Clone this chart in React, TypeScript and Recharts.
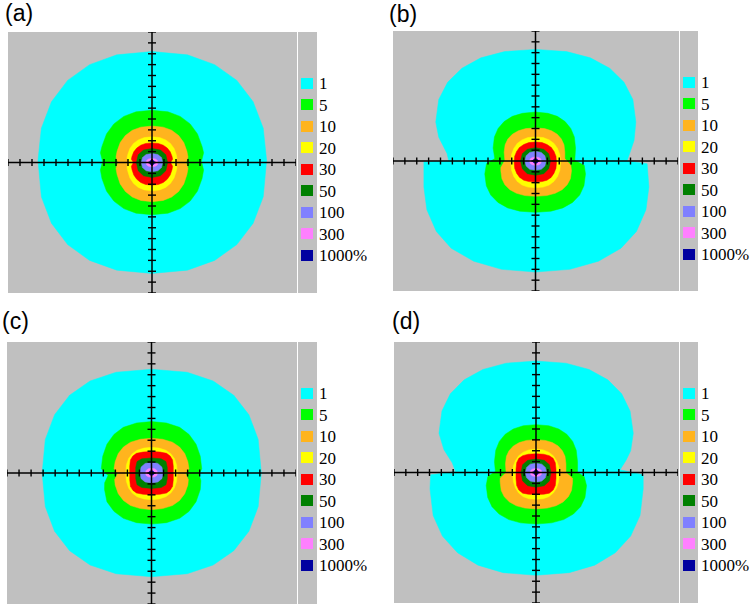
import React from "react";
import { ScatterChart, Scatter, XAxis, YAxis } from "recharts";

type Pt = [number, number];

const levelLabels = ["1", "5", "10", "20", "30", "50", "100", "300", "1000%"];
const levelColors = ["#00ffff", "#00ff00", "#ffb41e", "#ffff00", "#ff0000", "#008000", "#8080ff", "#ff80ff", "#0000a0"];
const axisTicks = [-12, -11, -10, -9, -8, -7, -6, -5, -4, -3, -2, -1, 0, 1, 2, 3, 4, 5, 6, 7, 8, 9, 10, 11, 12];
const panelLabels = ["(a)", "(b)", "(c)", "(d)"];

// (a)
const a1: Pt[] = [[0, 10.2], [2.95, 9.9], [5.22, 9.0], [7.07, 7.55], [8.43, 5.58], [9.27, 3.15], [9.55, 0.2], [9.27, -3.15], [8.43, -5.58], [7.07, -7.55], [5.22, -9.0], [2.95, -9.9], [0, -10.2], [-2.93, -9.9], [-5.2, -9.0], [-7.03, -7.55], [-8.38, -5.58], [-9.22, -3.15], [-9.5, 0.2], [-9.22, 3.15], [-8.38, 5.58], [-7.03, 7.55], [-5.2, 9.0], [-2.93, 9.9]];
const a5: Pt[] = [[0, 4.8], [1.33, 4.66], [2.35, 4.24], [3.18, 3.55], [3.79, 2.63], [4.17, 1.48], [4.3, 0.9], [4.12, 0.1], [4.3, -0.7], [4.17, -1.48], [3.79, -2.63], [3.18, -3.55], [2.35, -4.24], [1.33, -4.66], [0, -4.8], [-1.33, -4.66], [-2.35, -4.24], [-3.18, -3.55], [-3.79, -2.63], [-4.17, -1.48], [-4.3, -0.7], [-4.12, 0.1], [-4.3, 0.9], [-4.17, 1.48], [-3.79, 2.63], [-3.18, 3.55], [-2.35, 4.24], [-1.33, 4.66]];
const a10: Pt[] = [[0, 3.35], [0.93, 3.25], [1.64, 2.96], [2.22, 2.48], [2.65, 1.83], [2.91, 1.03], [3.0, 0.5], [2.85, 0], [3.0, -0.55], [2.91, -1.11], [2.65, -1.97], [2.22, -2.66], [1.64, -3.18], [0.93, -3.49], [0, -3.6], [-0.93, -3.49], [-1.64, -3.18], [-2.22, -2.66], [-2.65, -1.97], [-2.91, -1.11], [-3.0, -0.55], [-2.85, 0], [-3.0, 0.5], [-2.91, 1.03], [-2.65, 1.83], [-2.22, 2.48], [-1.64, 2.96], [-0.93, 3.25]];
const a20: Pt[] = [[0, 2.36], [0.64, 2.29], [1.14, 2.08], [1.54, 1.75], [1.84, 1.29], [2.02, 0.73], [2.08, 0.4], [1.94, 0], [2.08, -0.45], [2.02, -0.8], [1.84, -1.42], [1.54, -1.92], [1.14, -2.29], [0.64, -2.52], [0, -2.6], [-0.64, -2.52], [-1.14, -2.29], [-1.54, -1.92], [-1.84, -1.42], [-2.02, -0.8], [-2.08, -0.45], [-1.94, 0], [-2.08, 0.4], [-2.02, 0.73], [-1.84, 1.29], [-1.54, 1.75], [-1.14, 2.08], [-0.64, 2.29]];
const a30: Pt[] = [[0, 1.8], [0.53, 1.75], [0.94, 1.59], [1.27, 1.33], [1.52, 0.98], [1.67, 0.56], [1.72, 0.3], [1.55, 0], [1.72, -0.35], [1.67, -0.64], [1.52, -1.14], [1.27, -1.54], [0.94, -1.84], [0.53, -2.02], [0, -2.08], [-0.53, -2.02], [-0.94, -1.84], [-1.27, -1.54], [-1.52, -1.14], [-1.67, -0.64], [-1.72, -0.35], [-1.55, 0], [-1.72, 0.3], [-1.67, 0.56], [-1.52, 0.98], [-1.27, 1.33], [-0.94, 1.59], [-0.53, 1.75]];
const a50: Pt[] = [[0, 1.29], [0.71, 1.14], [1.15, 0.71], [1.3, 0], [1.15, -0.75], [0.71, -1.22], [0, -1.38], [-0.71, -1.22], [-1.15, -0.75], [-1.3, 0], [-1.15, 0.71], [-0.71, 1.14]];
const a100: Pt[] = [[0, 0.83], [0.49, 0.73], [0.79, 0.45], [0.89, 0], [0.79, -0.47], [0.49, -0.76], [0, -0.86], [-0.49, -0.76], [-0.79, -0.47], [-0.89, 0], [-0.79, 0.45], [-0.49, 0.73]];
const a300: Pt[] = [[0, 0.37], [0.27, 0.33], [0.44, 0.2], [0.5, 0], [0.44, -0.22], [0.27, -0.35], [0, -0.4], [-0.27, -0.35], [-0.44, -0.22], [-0.5, 0], [-0.44, 0.2], [-0.27, 0.33]];
const a1000: Pt[] = [[0, 0.22], [0.17, 0.15], [0.22, 0], [0.17, -0.15], [0, -0.22], [-0.17, -0.15], [-0.22, 0], [-0.17, 0.15]];

// (b)
const b1: Pt[] = [[0, 10.3], [2.61, 10.1], [4.62, 9.52], [6.25, 8.56], [7.46, 7.26], [8.2, 5.67], [8.45, 3.6], [8.3, 1.9], [7.9, 0.6], [7.7, 0], [9.4, -0.25], [9.55, -2.4], [9.3, -4.5], [8.5, -6.5], [7.2, -8.05], [5.3, -9.25], [2.9, -10.0], [0, -10.25], [-2.85, -10.0], [-5.2, -9.25], [-7.1, -8.05], [-8.35, -6.5], [-9.15, -4.5], [-9.4, -2.4], [-9.4, -0.1], [-7.3, 0], [-7.45, 0.7], [-8.15, 2.2], [-8.4, 3.6], [-8.15, 5.67], [-7.4, 7.26], [-6.2, 8.56], [-4.6, 9.52], [-2.6, 10.1]];
const b5: Pt[] = [[0, 4.52], [1.04, 4.4], [1.84, 4.12], [2.49, 3.64], [2.97, 3.0], [3.27, 2.22], [3.37, 1.2], [3.31, 0.06], [4.1, -0.4], [4.21, -1.2], [4.08, -2.29], [3.72, -3.14], [3.12, -3.82], [2.3, -4.33], [1.3, -4.63], [0, -4.74], [-1.32, -4.63], [-2.34, -4.33], [-3.16, -3.82], [-3.77, -3.14], [-4.14, -2.29], [-4.27, -1.2], [-4.13, -0.25], [-3.43, 0.22], [-3.57, 1.2], [-3.46, 2.22], [-3.15, 3.0], [-2.64, 3.64], [-1.95, 4.12], [-1.1, 4.4]];
const b10: Pt[] = [[0, 3.05], [0.76, 2.99], [1.35, 2.79], [1.83, 2.47], [2.18, 2.03], [2.4, 1.49], [2.47, 0.8], [2.47, 0.22], [2.98, -0.4], [3.03, -0.9], [2.94, -1.63], [2.67, -2.19], [2.24, -2.65], [1.66, -2.98], [0.94, -3.19], [0, -3.26], [-0.9, -3.19], [-1.6, -2.98], [-2.16, -2.65], [-2.58, -2.19], [-2.83, -1.63], [-2.92, -0.9], [-2.92, -0.6], [-2.58, 0.06], [-2.64, 0.8], [-2.56, 1.49], [-2.33, 2.03], [-1.95, 2.47], [-1.44, 2.79], [-0.81, 2.99]];
const b20: Pt[] = [[0, 2.22], [0.65, 2.16], [1.16, 1.95], [1.56, 1.62], [1.86, 1.15], [2.05, 0.59], [2.11, -0.1], [2.05, -0.85], [1.86, -1.42], [1.56, -1.88], [1.16, -2.21], [0.65, -2.41], [0, -2.46], [-0.64, -2.41], [-1.14, -2.21], [-1.54, -1.88], [-1.83, -1.42], [-2.02, -0.85], [-2.08, -0.1], [-2.02, 0.59], [-1.83, 1.15], [-1.54, 1.62], [-1.14, 1.95], [-0.64, 2.16]];
const b30: Pt[] = [[0, 1.75], [0.55, 1.7], [0.97, 1.52], [1.33, 1.25], [1.56, 0.88], [1.72, 0.45], [1.77, -0.1], [1.72, -0.68], [1.56, -1.12], [1.33, -1.5], [0.97, -1.77], [0.55, -1.9], [0, -1.94], [-0.56, -1.9], [-0.99, -1.77], [-1.35, -1.5], [-1.59, -1.12], [-1.75, -0.68], [-1.8, -0.1], [-1.75, 0.45], [-1.59, 0.88], [-1.35, 1.25], [-0.99, 1.52], [-0.56, 1.7]];
const b50: Pt[] = [[0, 1.23], [0.69, 1.08], [1.11, 0.67], [1.26, 0], [1.11, -0.72], [0.69, -1.17], [0, -1.32], [-0.69, -1.17], [-1.11, -0.72], [-1.26, 0], [-1.11, 0.67], [-0.69, 1.08]];
const b100: Pt[] = [[0, 0.89], [0.49, 0.79], [0.79, 0.49], [0.9, 0], [0.79, -0.47], [0.49, -0.76], [0, -0.86], [-0.49, -0.76], [-0.79, -0.47], [-0.9, 0], [-0.79, 0.49], [-0.49, 0.79]];
const b300: Pt[] = [[0, 0.37], [0.27, 0.33], [0.44, 0.2], [0.5, 0], [0.44, -0.22], [0.27, -0.35], [0, -0.4], [-0.27, -0.35], [-0.44, -0.22], [-0.5, 0], [-0.44, 0.2], [-0.27, 0.33]];
const b1000: Pt[] = [[0, 0.22], [0.17, 0.15], [0.22, 0], [0.17, -0.15], [0, -0.22], [-0.17, -0.15], [-0.22, 0], [-0.17, 0.15]];

// (c)
const c1: Pt[] = [[0, 9.5], [2.96, 9.23], [5.12, 8.43], [6.83, 7.12], [8.09, 5.33], [8.86, 3.08], [9.12, 0], [8.86, -3.08], [8.09, -5.33], [6.83, -7.12], [5.12, -8.43], [2.96, -9.23], [0, -9.5], [-2.94, -9.23], [-5.1, -8.43], [-6.8, -7.12], [-8.05, -5.33], [-8.82, -3.08], [-9.08, 0], [-8.82, 3.08], [-8.05, 5.33], [-6.8, 7.12], [-5.1, 8.43], [-2.94, 9.23]];
const c5: Pt[] = [[0, 4.71], [1.24, 4.58], [2.34, 4.18], [3.12, 3.53], [3.7, 2.64], [4.05, 1.53], [4.17, 0.4], [3.95, -0.15], [4.1, -0.7], [4.05, -1.52], [3.7, -2.63], [3.12, -3.51], [2.34, -4.15], [1.24, -4.55], [0, -4.68], [-1.24, -4.55], [-2.34, -4.15], [-3.12, -3.51], [-3.7, -2.63], [-3.9, -1.52], [-3.89, -0.9], [-3.61, -0.24], [-4.17, 0.4], [-4.05, 1.53], [-3.7, 2.64], [-3.12, 3.53], [-2.34, 4.18], [-1.24, 4.58]];
const c10: Pt[] = [[0, 3.18], [0.92, 3.09], [1.74, 2.82], [2.33, 2.38], [2.76, 1.78], [3.02, 1.03], [3.11, 0.4], [2.85, -0.09], [3.06, -0.6], [3.02, -1.09], [2.76, -1.89], [2.33, -2.52], [1.74, -2.98], [0.92, -3.26], [0, -3.36], [-0.92, -3.26], [-1.74, -2.98], [-2.33, -2.52], [-2.76, -1.89], [-3.02, -1.09], [-3.06, -0.6], [-2.83, -0.09], [-3.11, 0.4], [-3.02, 1.03], [-2.76, 1.78], [-2.33, 2.38], [-1.74, 2.82], [-0.92, 3.09]];
const c20: Pt[] = [[0, 2.35], [0.63, 2.28], [1.2, 2.08], [1.6, 1.76], [1.9, 1.32], [2.08, 0.76], [2.14, 0], [2.08, -0.79], [1.9, -1.37], [1.6, -1.84], [1.2, -2.17], [0.63, -2.38], [0, -2.45], [-0.63, -2.38], [-1.2, -2.17], [-1.6, -1.84], [-1.9, -1.37], [-2.08, -0.79], [-2.14, 0], [-2.08, 0.76], [-1.9, 1.32], [-1.6, 1.76], [-1.2, 2.08], [-0.63, 2.28]];
const c30: Pt[] = [[0, 1.96], [0.7, 1.92], [1.25, 1.8], [1.55, 1.55], [1.75, 1.2], [1.81, 0.6], [1.81, -0.6], [1.75, -1.22], [1.55, -1.58], [1.25, -1.83], [0.7, -1.95], [0, -1.99], [-0.7, -1.95], [-1.25, -1.83], [-1.55, -1.58], [-1.75, -1.22], [-1.81, -0.6], [-1.81, 0.6], [-1.75, 1.2], [-1.55, 1.55], [-1.25, 1.8], [-0.7, 1.92]];
const c50: Pt[] = [[0, 1.38], [0.8, 1.3], [1.2, 1.05], [1.31, 0.5], [1.31, -0.5], [1.2, -1.08], [0.8, -1.33], [0, -1.41], [-0.8, -1.33], [-1.2, -1.08], [-1.31, -0.5], [-1.31, 0.5], [-1.2, 1.05], [-0.8, 1.3]];
const c100: Pt[] = [[0, 0.98], [0.53, 0.87], [0.86, 0.55], [0.97, 0], [0.86, -0.52], [0.53, -0.82], [0, -0.92], [-0.53, -0.82], [-0.86, -0.52], [-0.97, 0], [-0.86, 0.55], [-0.53, 0.87]];
const c300: Pt[] = [[0, 0.43], [0.27, 0.38], [0.44, 0.24], [0.5, 0], [0.44, -0.22], [0.27, -0.35], [0, -0.4], [-0.27, -0.35], [-0.44, -0.22], [-0.5, 0], [-0.44, 0.24], [-0.27, 0.38]];
const c1000: Pt[] = [[0, 0.22], [0.17, 0.15], [0.22, 0], [0.17, -0.15], [0, -0.22], [-0.17, -0.15], [-0.22, 0], [-0.17, 0.15]];

// (d)
const d1: Pt[] = [[0, 10.25], [2.53, 10.05], [4.49, 9.47], [6.07, 8.52], [7.24, 7.24], [7.95, 5.65], [8.22, 3.6], [8.0, 2.0], [7.6, 1.1], [7.1, 0.25], [9.06, -0.21], [9.06, -1.5], [8.79, -3.96], [8.0, -5.85], [6.7, -7.38], [4.96, -8.52], [2.8, -9.21], [0, -9.45], [-2.77, -9.21], [-4.9, -8.52], [-6.63, -7.38], [-7.91, -5.85], [-8.69, -3.96], [-8.96, -1.5], [-8.9, -0.21], [-6.8, 0.09], [-7.07, 0.87], [-7.78, 2.1], [-8.2, 3.6], [-7.95, 5.65], [-7.24, 7.24], [-6.07, 8.52], [-4.49, 9.47], [-2.53, 10.05]];
const d5: Pt[] = [[0, 4.4], [1.08, 4.3], [1.92, 4.0], [2.6, 3.52], [3.1, 2.86], [3.4, 2.05], [3.51, 1.0], [3.51, 0], [4.07, -0.37], [4.27, -1.2], [4.14, -2.29], [3.77, -3.14], [3.16, -3.82], [2.34, -4.33], [1.32, -4.63], [0, -4.74], [-1.3, -4.63], [-2.3, -4.33], [-3.12, -3.82], [-3.72, -3.14], [-4.08, -2.29], [-4.21, -1.2], [-4.07, -0.37], [-3.43, 0.09], [-3.51, 1.0], [-3.4, 2.05], [-3.1, 2.86], [-2.6, 3.52], [-1.92, 4.0], [-1.08, 4.3]];
const d10: Pt[] = [[0, 3.02], [0.78, 2.95], [1.38, 2.75], [1.87, 2.44], [2.23, 1.99], [2.45, 1.49], [2.53, 0.8], [2.53, 0], [3.09, -0.52], [3.09, -0.9], [3.0, -1.66], [2.73, -2.24], [2.29, -2.71], [1.69, -3.06], [0.95, -3.27], [0, -3.35], [-0.94, -3.27], [-1.66, -3.06], [-2.24, -2.71], [-2.68, -2.24], [-2.94, -1.66], [-3.03, -0.9], [-3.03, -0.52], [-2.53, 0], [-2.58, 0.8], [-2.5, 1.49], [-2.28, 1.99], [-1.91, 2.44], [-1.41, 2.75], [-0.8, 2.95]];
const d20: Pt[] = [[0, 2.15], [0.61, 2.08], [1.08, 1.86], [1.46, 1.54], [1.74, 1.08], [1.91, 0.6], [1.97, -0.1], [1.91, -0.85], [1.74, -1.42], [1.46, -1.89], [1.08, -2.22], [0.61, -2.41], [0, -2.46], [-0.61, -2.41], [-1.08, -2.22], [-1.46, -1.89], [-1.74, -1.42], [-1.91, -0.85], [-1.97, -0.1], [-1.91, 0.6], [-1.74, 1.08], [-1.46, 1.54], [-1.08, 1.86], [-0.61, 2.08]];
const d30: Pt[] = [[0, 1.72], [0.65, 1.68], [1.12, 1.55], [1.45, 1.3], [1.63, 0.9], [1.69, 0.3], [1.69, -0.55], [1.63, -1.2], [1.45, -1.62], [1.12, -1.9], [0.65, -2.0], [0, -2.03], [-0.65, -2.0], [-1.12, -1.9], [-1.45, -1.62], [-1.63, -1.2], [-1.69, -0.55], [-1.69, 0.3], [-1.63, 0.9], [-1.45, 1.3], [-1.12, 1.55], [-0.65, 1.68]];
const d50: Pt[] = [[0, 1.23], [0.7, 1.12], [1.13, 0.72], [1.26, 0], [1.13, -0.78], [0.7, -1.22], [0, -1.35], [-0.7, -1.22], [-1.13, -0.78], [-1.26, 0], [-1.13, 0.72], [-0.7, 1.12]];
const d100: Pt[] = [[0, 0.86], [0.49, 0.77], [0.79, 0.47], [0.9, 0], [0.79, -0.49], [0.49, -0.79], [0, -0.89], [-0.49, -0.79], [-0.79, -0.49], [-0.9, 0], [-0.79, 0.47], [-0.49, 0.77]];
const d300: Pt[] = [[0, 0.37], [0.27, 0.33], [0.44, 0.2], [0.5, 0], [0.44, -0.2], [0.27, -0.33], [0, -0.37], [-0.27, -0.33], [-0.44, -0.2], [-0.5, 0], [-0.44, 0.2], [-0.27, 0.33]];
const d1000: Pt[] = [[0, 0.22], [0.17, 0.15], [0.22, 0], [0.17, -0.15], [0, -0.22], [-0.17, -0.15], [-0.22, 0], [-0.17, 0.15]];

const panelContours: Pt[][][] = [
  [a1, a5, a10, a20, a30, a50, a100, a300, a1000],
  [b1, b5, b10, b20, b30, b50, b100, b300, b1000],
  [c1, c5, c10, c20, c30, c50, c100, c300, c1000],
  [d1, d5, d10, d20, d30, d50, d100, d300, d1000],
];

// page layout of each panel (plot box, gray strip, label)
const boxes = [
  { left: 8, top: 32, w: 288, h: 261, grayW: 309, labelX: 5, labelY: 2 },
  { left: 393, top: 31, w: 285, h: 260, grayW: 305, labelX: 389, labelY: 3 },
  { left: 7, top: 342, w: 289, h: 262, grayW: 310, labelX: 2, labelY: 310 },
  { left: 394, top: 342, w: 284, h: 261, grayW: 304, labelX: 392, labelY: 310 },
];

const noDot = () => <g />;
const hTick = (p: any) => (
  <line x1={p.cx} x2={p.cx} y1={p.cy - 3.5} y2={p.cy + 3.5} stroke="#000" strokeWidth={1.4} />
);
const vTick = (p: any) => (
  <line x1={p.cx - 4} x2={p.cx + 4} y1={p.cy} y2={p.cy} stroke="#000" strokeWidth={1.4} />
);

const toXY = (pts: Pt[]) => pts.map(([x, y]) => ({ x, y }));

function Panel({ idx }: { idx: number }) {
  const box = boxes[idx];
  const contours = panelContours[idx];
  const hAxis = [{ x: -12, y: 0 }, { x: 12, y: 0 }];
  const vAxis = [{ x: 0, y: -12 }, { x: 0, y: 12 }];
  return (
    <>
      <div
        style={{
          position: "absolute",
          left: box.labelX,
          top: box.labelY,
          fontFamily: "'Liberation Sans', Arial, sans-serif",
          fontSize: 23,
          lineHeight: "23px",
          color: "#000",
        }}
      >
        {panelLabels[idx]}
      </div>
      <div
        style={{
          position: "absolute",
          left: box.left,
          top: box.top,
          width: box.grayW,
          height: box.h,
          background: "#c0c0c0",
        }}
      >
        <ScatterChart width={box.w} height={box.h} margin={{ top: 0, right: 0, bottom: 0, left: 0 }}>
          <XAxis type="number" dataKey="x" domain={[-12, 12]} allowDataOverflow hide />
          <YAxis type="number" dataKey="y" domain={[-12, 12]} allowDataOverflow hide />
          {contours.map((c, i) => (
            <Scatter
              key={levelLabels[i]}
              data={toXY(c)}
              line={{ fill: levelColors[i], stroke: levelColors[i], strokeWidth: 0.5 }}
              lineJointType="linearClosed"
              shape={noDot}
              isAnimationActive={false}
            />
          ))}
          <Scatter data={hAxis} line={{ stroke: "#000", strokeWidth: 1.5 }} lineJointType="linear" shape={noDot} isAnimationActive={false} />
          <Scatter data={vAxis} line={{ stroke: "#000", strokeWidth: 1.5 }} lineJointType="linear" shape={noDot} isAnimationActive={false} />
          <Scatter data={axisTicks.map((t) => ({ x: t, y: 0 }))} shape={hTick} isAnimationActive={false} />
          <Scatter data={axisTicks.map((t) => ({ x: 0, y: t }))} shape={vTick} isAnimationActive={false} />
        </ScatterChart>
        <div style={{ position: "absolute", left: box.w + 1, top: 0, width: 1, height: box.h, background: "#fff" }} />
        {levelLabels.map((lab, i) => {
          const cy = 51 + i * 21.5;
          return (
            <React.Fragment key={lab}>
              <div
                style={{
                  position: "absolute",
                  left: box.w + 5,
                  top: cy - 5.5,
                  width: 12,
                  height: 11,
                  background: levelColors[i],
                }}
              />
              <div
                style={{
                  position: "absolute",
                  left: box.w + 23,
                  top: cy - 7.6,
                  fontFamily: "'Liberation Serif', 'Times New Roman', serif",
                  fontSize: 17,
                  lineHeight: "17px",
                  color: "#000",
                  whiteSpace: "nowrap",
                }}
              >
                {lab}
              </div>
            </React.Fragment>
          );
        })}
      </div>
    </>
  );
}

export default function App() {
  return (
    <div style={{ position: "absolute", left: 0, top: 0, width: 755, height: 609, background: "#fff", overflow: "hidden" }}>
      {[0, 1, 2, 3].map((i) => (
        <Panel key={i} idx={i} />
      ))}
    </div>
  );
}
